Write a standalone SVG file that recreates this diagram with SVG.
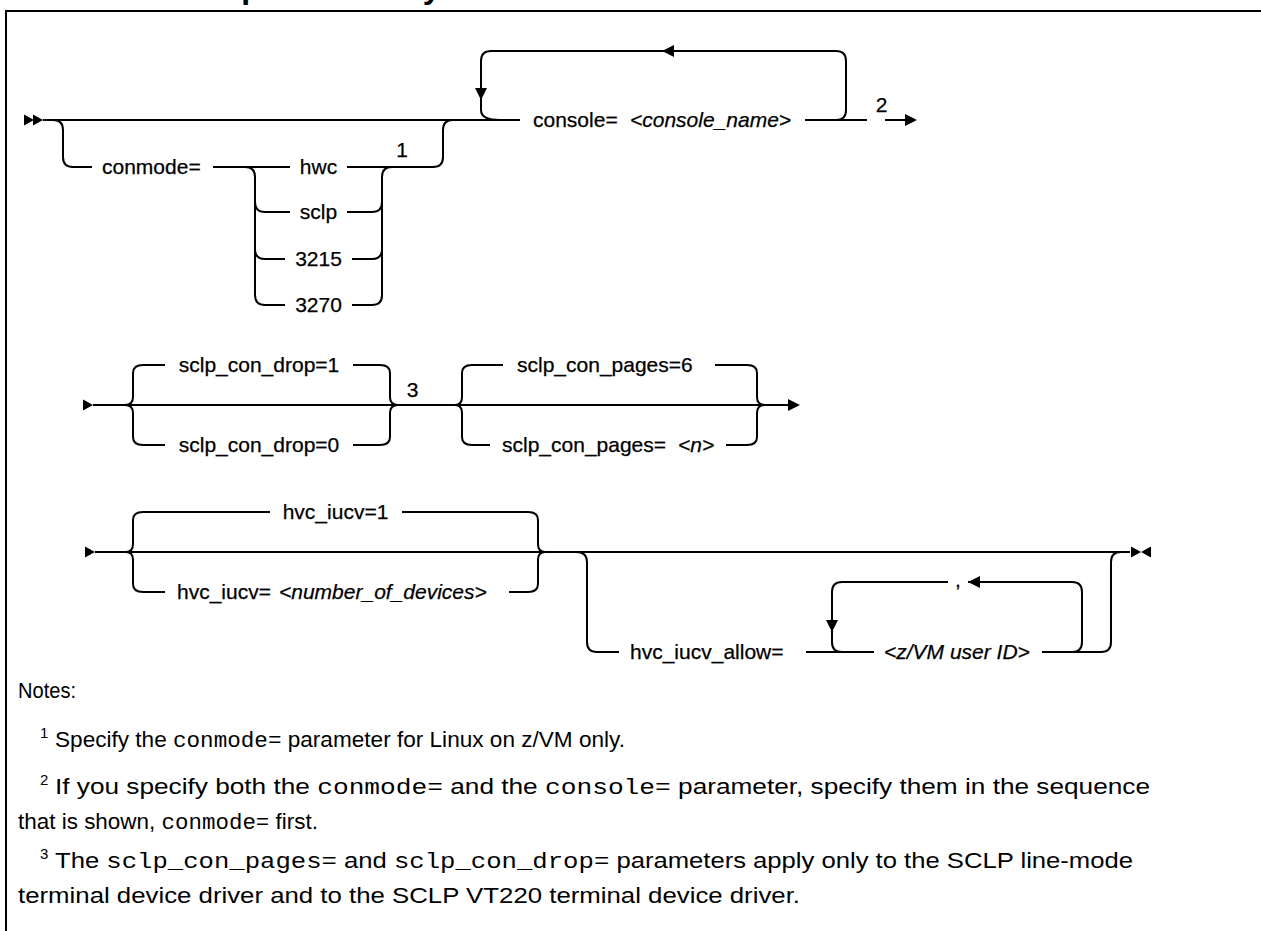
<svg xmlns="http://www.w3.org/2000/svg" xmlns:xlink="http://www.w3.org/1999/xlink" width="1261" height="931" viewBox="0 0 1261 931">
<style>
.ln{fill:none;stroke:#000;stroke-width:2}
.t{font-family:"Liberation Sans",Arial,sans-serif;font-size:21px;fill:#000;stroke:#000;stroke-width:0.25}
.i{font-style:italic}
.ttl{font-family:"Liberation Sans",Arial,sans-serif;font-size:32px;font-weight:bold;fill:#000}
.nt{font-family:"Liberation Sans",Arial,sans-serif;font-size:22px;fill:#000}
.m{font-family:"Liberation Mono","DejaVu Sans Mono",monospace}
.sup{font-family:"Liberation Sans",Arial,sans-serif;font-size:15px;fill:#000}
.ah{fill:#000}
</style>
<defs>
<path id="ah" d="M0,0 L-12,-6 L-12,6 Z"/>
<path id="tri" d="M0,0 L-10,-5.5 L-10,5.5 Z"/>
</defs>
<rect width="1261" height="931" fill="#fff"/>
<g id="title"><text class="ttl" x="3" y="-2">Console kernel parameter syntax</text></g>
<g id="frame"><path class="ln" d="M6,931 V11 H1261"/></g>

<g id="connectors">
<!-- row 1 -->
<use href="#tri" class="ah" transform="translate(34,120)"/>
<use href="#tri" class="ah" transform="translate(43,120)"/>
<path class="ln" d="M43,120 H520"/>
<path class="ln" d="M53,120 Q63,120 63,130 V157 Q63,167 73,167 H92"/>
<path class="ln" d="M213,167 H290 M347,167 H433 Q443,167 443,157 V130 Q443,120 453,120"/>
<path class="ln" d="M245,167 Q255,167 255,177 V295 Q255,305 265,305 H285"/>
<path class="ln" d="M255,202 Q255,212 265,212 H290 M255,249 Q255,259 265,259 H285"/>
<path class="ln" d="M347,212 H372 Q382,212 382,202 M352,259 H372 Q382,259 382,249 M352,305 H372 Q382,305 382,295 V177 Q382,167 392,167"/>
<path class="ln" d="M500,120 Q481,120 481,110 V61 Q481,51 491,51 H836 Q846,51 846,61 V110 Q846,120 836,120"/>
<use href="#ah" class="ah" transform="translate(662,51) rotate(180)"/>
<use href="#ah" class="ah" transform="translate(481,100) rotate(90)"/>
<path class="ln" d="M805,120 H867 M885,120 H906"/>
<use href="#ah" class="ah" transform="translate(917,120)"/>
<!-- row 2 -->
<use href="#tri" class="ah" transform="translate(93,405)"/>
<path class="ln" d="M93,405 H788"/>
<use href="#ah" class="ah" transform="translate(800,405)"/>
<path class="ln" d="M143,365 Q133,365 133,373 V397 Q133,405 125,405 Q133,405 133,413 V437 Q133,445 143,445"/>
<path class="ln" d="M380,365 Q390,365 390,373 V397 Q390,405 398,405 Q390,405 390,413 V437 Q390,445 380,445"/>
<path class="ln" d="M143,365 H165 M353,365 H380 M143,445 H165 M353,445 H380"/>
<path class="ln" d="M472,365 Q462,365 462,373 V397 Q462,405 455,405 Q462,405 462,413 V437 Q462,445 472,445"/>
<path class="ln" d="M747,365 Q757,365 757,373 V397 Q757,405 765,405 Q757,405 757,413 V437 Q757,445 747,445"/>
<path class="ln" d="M472,365 H503 M715,365 H747 M472,445 H490 M726,445 H747"/>
<!-- row 3 -->
<use href="#tri" class="ah" transform="translate(95,552)"/>
<path class="ln" d="M95,552 H1130"/>
<use href="#tri" class="ah" transform="translate(1141,552)"/>
<use href="#tri" class="ah" transform="translate(1141,552) rotate(180)"/>
<path class="ln" d="M143,512 Q133,512 133,520 V544 Q133,552 126,552 Q133,552 133,560 V584 Q133,592 143,592"/>
<path class="ln" d="M528,512 Q538,512 538,520 V544 Q538,552 545,552 Q538,552 538,560 V584 Q538,592 528,592"/>
<path class="ln" d="M143,512 H270 M402,512 H528 M143,592 H165 M509,592 H528"/>
<path class="ln" d="M576,552 Q587,552 587,562 V642 Q587,652 597,652 H619 M806,652 H874 M1042,652 H1101 Q1111,652 1111,642 V562 Q1111,552 1121,552"/>
<path class="ln" d="M842,652 Q832,652 832,642 V592 Q832,582 842,582 H948 M968,582 H1072 Q1082,582 1082,592 V642 Q1082,652 1072,652"/>
<use href="#ah" class="ah" transform="translate(968,582) rotate(180)"/>
<use href="#ah" class="ah" transform="translate(832,632) rotate(90)"/>
</g>

<g id="n-conmode"><text class="t" x="102" y="174">conmode=</text></g>
<g id="n-hwc"><text class="t" x="318.5" y="174" text-anchor="middle">hwc</text></g>
<g id="n-sclp"><text class="t" x="318.5" y="219" text-anchor="middle">sclp</text></g>
<g id="n-3215"><text class="t" x="318.5" y="266" text-anchor="middle">3215</text></g>
<g id="n-3270"><text class="t" x="318.5" y="312" text-anchor="middle">3270</text></g>
<g id="n-note1"><text class="t" x="402" y="157" text-anchor="middle">1</text></g>
<g id="n-console"><text class="t" x="533" y="127">console= <tspan class="i" x="630">&lt;console_name&gt;</tspan></text></g>
<g id="n-note2"><text class="t" x="881.5" y="112" text-anchor="middle">2</text></g>

<g id="n-drop1"><text class="t" x="259" y="372" text-anchor="middle">sclp_con_drop=1</text></g>
<g id="n-drop0"><text class="t" x="259" y="452" text-anchor="middle">sclp_con_drop=0</text></g>
<g id="n-note3"><text class="t" x="412.5" y="397" text-anchor="middle">3</text></g>
<g id="n-pages6"><text class="t" x="517" y="372">sclp_con_pages=6</text></g>
<g id="n-pagesn"><text class="t" x="502" y="452">sclp_con_pages= <tspan class="i" x="678">&lt;n&gt;</tspan></text></g>

<g id="n-iucv1"><text class="t" x="335.5" y="519" text-anchor="middle">hvc_iucv=1</text></g>
<g id="n-iucvn"><text class="t" x="177" y="599">hvc_iucv= <tspan class="i" x="279">&lt;number_of_devices&gt;</tspan></text></g>
<g id="n-allow"><text class="t" x="630" y="659">hvc_iucv_allow=</text></g>
<g id="n-userid"><text class="t i" x="884" y="659">&lt;z/VM user ID&gt;</text></g>
<g id="n-comma"><text class="t" x="958" y="587" text-anchor="middle">,</text></g>

<g id="notes">
<text class="nt" x="18" y="698" textLength="58" lengthAdjust="spacingAndGlyphs">Notes:</text>
<text class="sup" x="40" y="738">1</text>
<text class="nt" x="55" y="747" textLength="570" lengthAdjust="spacingAndGlyphs">Specify the <tspan class="m">conmode=</tspan> parameter for Linux on z/VM only.</text>
<text class="sup" x="40" y="785">2</text>
<text class="nt" x="55" y="794" textLength="1095" lengthAdjust="spacingAndGlyphs">If you specify both the <tspan class="m">conmode=</tspan> and the <tspan class="m">console=</tspan> parameter, specify them in the sequence</text>
<text class="nt" x="18" y="829" textLength="300" lengthAdjust="spacingAndGlyphs">that is shown, <tspan class="m">conmode=</tspan> first.</text>
<text class="sup" x="40" y="859">3</text>
<text class="nt" x="55" y="868" textLength="1078" lengthAdjust="spacingAndGlyphs">The <tspan class="m">sclp_con_pages=</tspan> and <tspan class="m">sclp_con_drop=</tspan> parameters apply only to the SCLP line-mode</text>
<text class="nt" x="18" y="903" textLength="782" lengthAdjust="spacingAndGlyphs">terminal device driver and to the SCLP VT220 terminal device driver.</text>
</g>
</svg>
